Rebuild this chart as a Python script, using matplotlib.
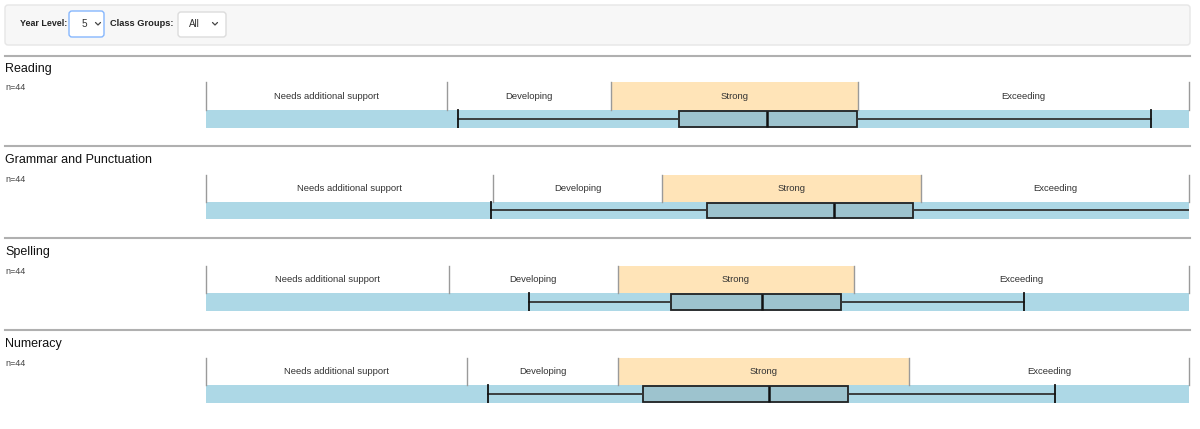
import matplotlib
matplotlib.use("Agg")
import matplotlib.pyplot as plt
from matplotlib.patches import FancyBboxPatch, Rectangle

plt.rcParams['font.family'] = ['Liberation Sans', 'DejaVu Sans']

# ---- data ----
subjects = ["Reading", "Grammar and Punctuation", "Spelling", "Numeracy"]
n_students = [44, 44, 44, 44]
band_labels = ["Needs additional support", "Developing", "Strong", "Exceeding"]
scale_min, scale_max = 0.0, 100.0
band_edges = [
    [24.5, 41.2, 66.3],
    [29.2, 46.4, 72.7],
    [24.7, 41.9, 65.9],
    [26.6, 41.9, 71.5],
]
whisker_low = [25.6, 29.0, 32.9, 28.7]
q1 = [48.1, 51.0, 47.3, 44.5]
median = [57.1, 63.9, 56.6, 57.3]
q3 = [66.2, 71.9, 64.6, 65.3]
whisker_high = [96.1, 103.0, 83.2, 86.4]
year_level = "5"
class_group = "All"

W, H = 1200, 429
fig = plt.figure(figsize=(W / 100, H / 100), dpi=100)

# background layout axes in pixel coordinates
bg = fig.add_axes([0, 0, 1, 1])
bg.set_xlim(0, W)
bg.set_ylim(H, 0)
bg.axis("off")

# filter bar
bg.add_patch(FancyBboxPatch((5, 5), 1185, 40, boxstyle="round,pad=0,rounding_size=3",
                            facecolor="#f7f7f7", edgecolor="#e6e6e6", lw=1))
bg.text(20, 23, "Year Level:", fontsize=6.4, fontweight="bold", va="center", ha="left", color="#222")
bg.add_patch(FancyBboxPatch((69, 11), 35, 26, boxstyle="round,pad=0,rounding_size=3",
                            facecolor="white", edgecolor="#86b7fe", lw=1))
bg.text(84, 24, year_level, fontsize=7.2, va="center", ha="center", color="#333")
bg.add_patch(FancyBboxPatch((178, 12), 48, 25, boxstyle="round,pad=0,rounding_size=3",
                            facecolor="white", edgecolor="#dcdcdc", lw=1))
bg.text(189, 24, class_group, fontsize=7.0, va="center", ha="left", color="#333")
bg.text(110, 23, "Class Groups:", fontsize=6.7, fontweight="bold", va="center", ha="left", color="#222")
for cx in (98, 215):
    bg.plot([cx - 2.5, cx, cx + 2.5], [22.5, 25, 22.5], color="#444", lw=0.9, solid_capstyle="round")

sep_y = [56, 146, 238, 330]
title_y = [69, 160, 252, 344]
n_y = [88, 180, 272, 364]
head_top = [82, 175, 266, 358]
bar_bot = [128, 219, 311, 403]

x_left, x_right = 206, 1189
bar_frac = 0.39

for i, subj in enumerate(subjects):
    bg.plot([5, 1190], [sep_y[i], sep_y[i]], color="#b0b0b0", lw=1.5)
    bg.text(5, title_y[i], subj, fontsize=9.0, va="center", ha="left", color="#111")
    bg.text(5, n_y[i], f"n={n_students[i]}", fontsize=6.5, va="center", ha="left", color="#444")

    ax = fig.add_axes([x_left / W, 1 - bar_bot[i] / H, (x_right - x_left) / W,
                       (bar_bot[i] - head_top[i]) / H])
    ax.set_xlim(scale_min, scale_max)
    ax.set_ylim(0, 1)
    ax.axis("off")

    edges = [scale_min] + band_edges[i] + [scale_max]
    # strong band fill
    ax.add_patch(Rectangle((edges[2], bar_frac), edges[3] - edges[2], 1 - bar_frac,
                           facecolor="#ffe4b8", edgecolor="none"))
    for e in edges:
        ax.plot([e, e], [bar_frac, 1], color="#9a9a9a", lw=1.0, clip_on=False)
    for k, lab in enumerate(band_labels):
        ax.text((edges[k] + edges[k + 1]) / 2, bar_frac + (1 - bar_frac) * 0.5, lab,
                fontsize=6.8, ha="center", va="center", color="#333")
    # bar
    ax.add_patch(Rectangle((scale_min, 0), scale_max - scale_min, bar_frac,
                           facecolor="#add8e6", edgecolor="none"))
    stats = [dict(med=median[i], q1=q1[i], q3=q3[i], whislo=whisker_low[i],
                  whishi=whisker_high[i], fliers=[])]
    ax.bxp(stats, positions=[bar_frac / 2], widths=[bar_frac * 0.92], capwidths=[bar_frac],
           orientation="horizontal", patch_artist=True, showfliers=False, manage_ticks=False,
           boxprops=dict(facecolor="#9dc3ce", edgecolor="#222", lw=1.3),
           medianprops=dict(color="#111", lw=1.8),
           whiskerprops=dict(color="#333", lw=1.3),
           capprops=dict(color="#111", lw=1.3))

fig.savefig("out.png", dpi=100)
